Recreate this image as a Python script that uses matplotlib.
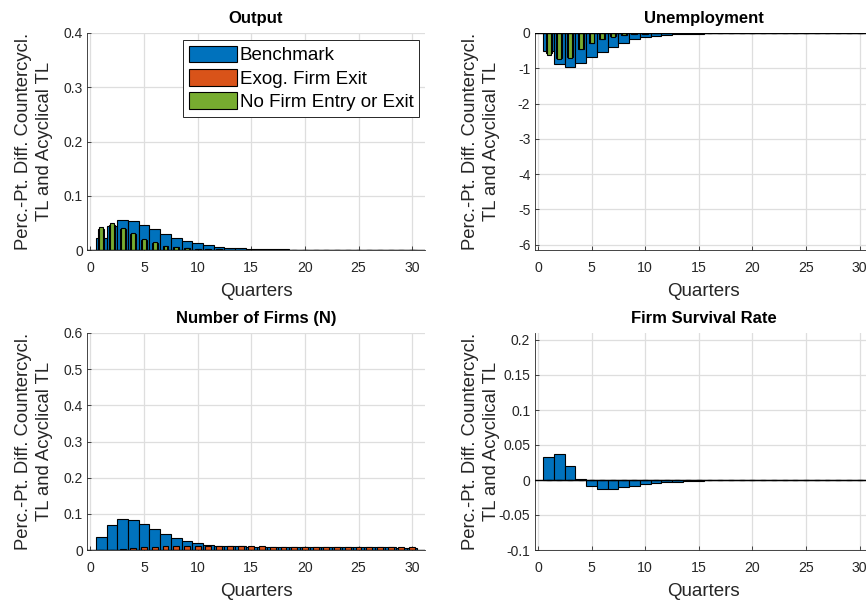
import matplotlib
matplotlib.use("Agg")
import matplotlib.pyplot as plt
import numpy as np
from matplotlib.ticker import FuncFormatter

plt.rcParams["font.family"] = ["Liberation Sans", "DejaVu Sans"]
plt.rcParams["axes.unicode_minus"] = False

quarters = np.arange(1, 31)

series_names = ["Benchmark", "Exog. Firm Exit", "No Firm Entry or Exit"]
series_colors = ["#0072BD", "#D95319", "#77AC30"]

# Output
output_bench = [0.023, 0.044, 0.055, 0.054, 0.047, 0.038, 0.029, 0.022, 0.016, 0.012,
                0.009, 0.006, 0.0045, 0.0032, 0.0025, 0.0019, 0.0014, 0.0011, 0.0008, 0.0006,
                0.0005, 0.0004, 0.0003, 0.0002, 0.0002, 0.0001, 0.0001, 0.0001, 0.0001, 0.0]
output_exog = [0.039, 0.046, 0.039, 0.029, 0.019, 0.013, 0.008, 0.005, 0.0035, 0.0023,
               0.0015, 0.001, 0.0007, 0.0005, 0.0003, 0.0002, 0.0001, 0.0001, 0.0, 0.0,
               0.0, 0.0, 0.0, 0.0, 0.0, 0.0, 0.0, 0.0, 0.0, 0.0]
output_noentry = [0.042, 0.049, 0.041, 0.031, 0.020, 0.014, 0.008, 0.0055, 0.0037, 0.0025,
                  0.0016, 0.0011, 0.0008, 0.0005, 0.0004, 0.0002, 0.0001, 0.0001, 0.0, 0.0,
                  0.0, 0.0, 0.0, 0.0, 0.0, 0.0, 0.0, 0.0, 0.0, 0.0]

# Unemployment
unemp_bench = [-0.52, -0.89, -0.95, -0.86, -0.69, -0.53, -0.39, -0.27, -0.18, -0.12,
               -0.085, -0.057, -0.04, -0.028, -0.02, -0.014, -0.01, -0.007, -0.005, -0.004,
               -0.003, -0.002, -0.0015, -0.001, -0.001, -0.0007, -0.0005, -0.0004, -0.0003, -0.0002]
unemp_exog = [-0.58, -0.72, -0.69, -0.44, -0.27, -0.16, -0.09, -0.05, -0.03, -0.018,
              -0.011, -0.007, -0.004, -0.003, -0.002, -0.001, -0.001, -0.0005, -0.0003, -0.0002,
              0.0, 0.0, 0.0, 0.0, 0.0, 0.0, 0.0, 0.0, 0.0, 0.0]
unemp_noentry = [-0.62, -0.75, -0.72, -0.46, -0.29, -0.17, -0.10, -0.057, -0.033, -0.02,
                 -0.012, -0.008, -0.005, -0.003, -0.002, -0.001, -0.001, -0.0005, -0.0003, -0.0002,
                 0.0, 0.0, 0.0, 0.0, 0.0, 0.0, 0.0, 0.0, 0.0, 0.0]

# Number of firms
firms_bench = [0.035, 0.068, 0.085, 0.082, 0.073, 0.057, 0.045, 0.033, 0.024, 0.018,
               0.014, 0.012, 0.011, 0.010, 0.0095, 0.009, 0.009, 0.0085, 0.0085, 0.008,
               0.008, 0.008, 0.0078, 0.0076, 0.0075, 0.0074, 0.0072, 0.007, 0.0068, 0.0066]
firms_exog = [0.0, 0.001, 0.003, 0.005, 0.007, 0.009, 0.010, 0.011, 0.011, 0.011,
              0.011, 0.011, 0.0105, 0.0103, 0.010, 0.0098, 0.0096, 0.0094, 0.0092, 0.009,
              0.0088, 0.0086, 0.0084, 0.0083, 0.0081, 0.008, 0.0078, 0.0077, 0.0076, 0.0075]
firms_noentry = [0.0] * 30

# Firm survival rate
surv_bench = [0.033, 0.037, 0.0195, 0.002, -0.009, -0.013, -0.013, -0.0105, -0.008, -0.006,
              -0.0048, -0.0033, -0.0024, -0.0015, -0.001, -0.0007, -0.0005, -0.0003, -0.0002, -0.0001,
              -0.0001, 0.0, 0.0, 0.0, 0.0, 0.0, 0.0, 0.0, 0.0, 0.0]
surv_exog = [0.0] * 30
surv_noentry = [0.0] * 30

panels = [
    ("Output", [output_bench, output_exog, output_noentry], (0, 0.4), np.arange(0, 0.41, 0.1)),
    ("Unemployment", [unemp_bench, unemp_exog, unemp_noentry], (-6.15, 0), np.arange(-6, 0.5, 1)),
    ("Number of Firms (N)", [firms_bench, firms_exog, firms_noentry], (0, 0.6), np.arange(0, 0.61, 0.1)),
    ("Firm Survival Rate", [surv_bench, surv_exog, surv_noentry], (-0.1, 0.21), np.arange(-0.1, 0.201, 0.05)),
]

W, H = 866, 604
fig = plt.figure(figsize=(W / 100, H / 100), dpi=100)

# axes boxes in pixels: left, top, width, height
boxes = [(87, 33, 338, 217), (534.5, 33, 338, 217), (87, 333, 338, 217), (534.5, 333, 338, 217)]
label_x = [-0.157, -0.158, -0.157, -0.158]

bar_widths = [1.0, 0.55, 0.37]
ylabel = "Perc.-Pt. Diff. Countercycl.\nTL and Acyclical TL"
axis_color = "#262626"

fmt = FuncFormatter(lambda v, p: "%g" % round(v, 4))

for i, (title, data, ylim, yticks) in enumerate(panels):
    l, t, w, h = boxes[i]
    ax = fig.add_axes([l / W, 1 - (t + h) / H, w / W, h / H])
    handles = []
    for vals, col, bw, name in zip(data, series_colors, bar_widths, series_names):
        b = ax.bar(quarters, vals, width=bw, color=col, edgecolor="black",
                   linewidth=0.8, label=name, zorder=3)
        handles.append(b)
    ax.axhline(0, color="black", linewidth=1.0, zorder=4)
    ax.set_xlim(-0.32, 31.2)
    ax.set_ylim(*ylim)
    ax.set_xticks(np.arange(0, 31, 5))
    ax.set_yticks(yticks)
    ax.yaxis.set_major_formatter(fmt)
    ax.grid(True, color="#dedede", linewidth=0.9, zorder=0)
    ax.set_axisbelow(True)
    for s in ["top", "right"]:
        ax.spines[s].set_visible(False)
    for s in ["left", "bottom"]:
        ax.spines[s].set_color(axis_color)
        ax.spines[s].set_linewidth(0.6)
    ax.tick_params(direction="in", length=3, width=0.6, colors=axis_color,
                   labelsize=10, pad=3)
    ax.tick_params(axis="x", labelsize=10.2, pad=8)
    ax.set_title(title, fontsize=12, fontweight="bold", pad=7)
    ax.set_xlabel("Quarters", fontsize=13.5, color=axis_color, labelpad=6)
    ax.set_ylabel(ylabel, fontsize=13.3, color=axis_color, linespacing=1.25)
    ax.yaxis.label.set_va("center")
    ax.yaxis.set_label_coords(label_x[i], 0.5)
    if i == 0:
        leg = ax.legend(handles=handles, loc="upper right",
                        bbox_to_anchor=((419 - 87) / 338, (250 - 40) / 217),
                        borderaxespad=0, fontsize=13.5, handlelength=2.56,
                        handleheight=1.0, handletextpad=0.16, labelspacing=0.24,
                        borderpad=0.3, fancybox=False, framealpha=1)
        leg.get_frame().set_edgecolor(axis_color)
        leg.get_frame().set_linewidth(0.7)

fig.savefig("out.png", dpi=100)
